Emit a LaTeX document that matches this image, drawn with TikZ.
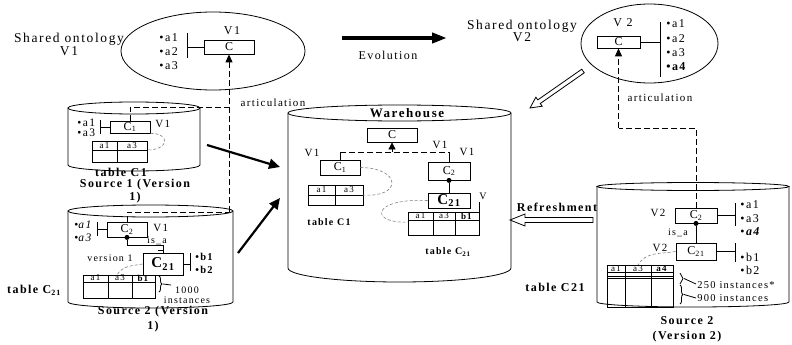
\documentclass[tikz,border=0pt]{standalone}
\usepackage{fontspec}
\setmainfont{Liberation Serif}[LetterSpace=12]
\usetikzlibrary{arrows.meta,calc,shapes.geometric,decorations.pathreplacing}

\tikzset{
  txt/.style={inner sep=0pt, font=\fontsize{12}{13}\selectfont},
  small/.style={inner sep=0pt, font=\fontsize{10}{11}\selectfont},
  attr/.style={inner sep=0pt, anchor=west, align=left, font=\fontsize{11}{14}\selectfont},
  ttl/.style={inner sep=0pt, align=center, font=\fontsize{12}{14}\selectfont\bfseries},
  hdr/.style={inner sep=0pt, font=\fontsize{9}{9}\selectfont},
  cls/.style={draw, inner sep=0pt, font=\fontsize{12}{13}\selectfont},
  dot/.style={circle, fill, inner sep=0pt, minimum size=5pt},
  artic/.style={line width=1pt, dash pattern=on 6pt off 3pt},
  link/.style={gray, densely dashed, line width=0.6pt},
  feed/.style={line width=2.2pt, -{Triangle[length=11pt,width=10pt]}},
  brc/.style={decorate, decoration={brace, amplitude=3pt}},
}

% hollow block arrow: from, to, shaft half width, head half width, head length
\newcommand{\blockarrow}[5]{%
  \coordinate (#1h) at ($(#2)!#5!(#1)$);
  \draw[fill=white] ($(#1)!#3!90:(#2)$) -- ($(#1h)!#3!90:(#2)$) -- ($(#1h)!#4!90:(#2)$)
    -- (#2) -- ($(#1h)!#4!-90:(#2)$) -- ($(#1h)!#3!-90:(#2)$) -- ($(#1)!#3!-90:(#2)$) -- cycle;}

\begin{document}
\begin{tikzpicture}[x=1pt, y=-1pt, line width=0.8pt]
    \useasboundingbox (0,0) rectangle (792,345);

    % shared ontology V1
    \node[draw, ellipse, minimum width=184pt, minimum height=78pt, inner sep=0pt] (ontoA) at (213,51) {};
    \node[txt, align=center, font=\fontsize{13.5}{13}\selectfont] (ontoAlbl) at (69,44) {Shared ontology\\V1};
    \node[attr, font=\fontsize{12}{14}\selectfont] (attA) at (159,52) {•a1\\•a2\\•a3};
    \node[cls, minimum width=50pt, minimum height=14pt] (cA) at (229,47) {C};
    \node[txt] (vA) at (232,31) {V1};
    \coordinate (barA1) at (187,33); \coordinate (barA2) at (187,58);
    \draw (barA1) -- (barA2);
    \draw (cA.west) -- (cA.west -| barA1);

    % source 1
    \draw (134,108) ellipse [x radius=66pt, y radius=6pt];
    \draw (68,108) -- (68,165) arc[start angle=180, end angle=360, x radius=66pt, y radius=6pt] -- (200,108);
    \node[attr, font=\fontsize{11.5}{10}\selectfont] (attS1) at (77,128) {•a1\\•a3};
    \coordinate (barS1a) at (100,120); \coordinate (barS1b) at (100,134);
    \draw (barS1a) -- (barS1b);
    \node[cls, minimum width=40pt, minimum height=12pt] (c1s) at (130,127) {C\textsubscript{1}};
    \draw (c1s.west) -- (c1s.west -| barS1a);
    \node[small, anchor=west, font=\fontsize{11}{11}\selectfont] (v1s) at (155,124) {V1};
    \draw (92,141) rectangle (147,162);
    \draw (92,150) -- (147,150) (117,141) -- (117,162);
    \coordinate (t1sE) at (147,150);
    \node[hdr] (h1sa) at (104.5,145.5) {a1};
    \node[hdr] (h1sb) at (132,145.5) {a3};
    \draw[link] (c1s.south east) .. controls (170,133) and (170,150) .. (t1sE);
    \node[ttl] (tbl1s) at (121,172) {table C1};
    \node[ttl, font=\fontsize{12}{13}\selectfont\bfseries] (src1) at (135,191.5) {Source 1 (Version\\1)};

    % source 2, version 1
    \draw (150.5,211) ellipse [x radius=82.5pt, y radius=6pt];
    \draw (68,211) -- (68,302) arc[start angle=180, end angle=360, x radius=82.5pt, y radius=6pt] -- (233,211);
    \node[attr, font=\fontsize{11.5}{13}\selectfont] (attS2) at (74,231.5) {•\textit{a1}\\•\textit{a3}};
    \coordinate (barS2a) at (97,222); \coordinate (barS2b) at (97,236);
    \draw (barS2a) -- (barS2b);
    \node[cls, minimum width=40pt, minimum height=15pt] (c2s) at (127,229.5) {C\textsubscript{2}};
    \draw (c2s.west) -- (c2s.west -| barS2a);
    \node[small, anchor=west, font=\fontsize{11}{11}\selectfont] (v2s) at (153,228) {V1};
    \node[dot] (d2s) at (c2s.south) {};
    \node[cls, minimum width=40pt, minimum height=22pt, font=\fontsize{15}{15}\selectfont\bfseries] (c21s) at (163,264) {C\textsubscript{21}};
    \coordinate (isaS) at (163,245);
    \draw (d2s) |- (isaS) -- (c21s.north);
    \draw (158,250) -- (163,250);
    \node[small] (isaSlbl) at (157,241) {is\_a};
    \coordinate (barS2c) at (190,253); \coordinate (barS2d) at (190,271);
    \draw (barS2c) -- (barS2d);
    \draw (c21s.east) -- (c21s.east -| barS2c);
    \node[attr, font=\fontsize{10.5}{13}\selectfont\bfseries] (attS2b) at (195,263.5) {•b1\\•b2};
    \node[small] (ver1) at (110,258) {version 1};
    \draw (83,275) rectangle (155,298);
    \draw (83,282) -- (155,282) (108,275) -- (108,298) (132,275) -- (132,298);
    \coordinate (t2sN) at (117,275);
    \node[hdr] (h2sa) at (95.5,278) {a1};
    \node[hdr] (h2sb) at (120,278) {a3};
    \node[hdr] (h2sc) at (143.5,278) {\textbf{b1}};
    \draw[link] (c21s.west) to[out=190, in=60] (t2sN);
    \draw[brc] (159,276) -- (159,292);
    \draw (163,284) -- (171,285);
    \node[small, align=center, font=\fontsize{10}{10}\selectfont] (inst1) at (187,295) {1000\\instances};
    \node[ttl] (tbl2s) at (34,290) {table C\textsubscript{21}};
    \node[ttl, font=\fontsize{12}{15}\selectfont\bfseries] (src2) at (153,319.5) {Source 2 (Version\\1)};

    % feeding the warehouse
    \coordinate (s1out) at (207,145); \coordinate (wIn1) at (280,167);
    \coordinate (s2out) at (238,253); \coordinate (wIn2) at (280,198);
    \draw[feed] (s1out) -- (wIn1);
    \draw[feed] (s2out) -- (wIn2);

    % articulation V1
    \coordinate (jA) at (229,107); \coordinate (jA2) at (229,212);
    \draw[artic] (c1s.north) |- (jA);
    \draw[artic] (c2s.north) |- (jA2);
    \draw[artic, -{Triangle[length=8pt,width=7pt]}] (jA2) -- (cA.south);
    \node[txt, font=\fontsize{11}{12}\selectfont] (artA) at (273,103) {articulation};

    % warehouse
    \draw (399.5,113) ellipse [x radius=111.5pt, y radius=8pt];
    \draw (288,113) -- (288,268) arc[start angle=180, end angle=360, x radius=111.5pt, y radius=14pt] -- (511,113);
    \node[ttl, font=\fontsize{13}{14}\selectfont\bfseries] (whLbl) at (407,113) {Warehouse};
    \node[cls, minimum width=50pt, minimum height=14pt] (cW) at (392,135) {C};
    \node[cls, minimum width=40pt, minimum height=15pt] (c1w) at (340,167.5) {C\textsubscript{1}};
    \node[cls, minimum width=42pt, minimum height=18pt] (c2w) at (449,171) {C\textsubscript{2}};
    \coordinate (jWl) at (340,152); \coordinate (jWr) at (449,152);
    \draw (c1w.north) -- (jWl);
    \draw (c2w.north) -- (jWr);
    \draw[artic] (jWl) -- (jWr);
    \draw[-{Triangle[length=7pt,width=7pt]}] (cW |- jWl) -- (cW.south);
    \node[small, font=\fontsize{11}{11}\selectfont] (v1wl) at (312,153) {V1};
    \node[small, font=\fontsize{11}{11}\selectfont] (v1wm) at (440,145) {V1};
    \node[small, font=\fontsize{11}{11}\selectfont] (v1wr) at (467,152) {V1};
    \node[dot] (d2w) at (c2w.south) {};
    \node[cls, minimum width=42pt, minimum height=15pt, font=\fontsize{15}{15}\selectfont\bfseries] (c21w) at (449,200.5) {C\textsubscript{21}};
    \draw (d2w) -- (c21w.north);
    \node[small] (vw21) at (483,196) {V};
    \coordinate (vw21a) at (479,202); \coordinate (vw21b) at (479,212);
    \draw (vw21a) -- (vw21b);
    \draw (308,185) rectangle (363,205);
    \draw (308,195) -- (363,195) (335,185) -- (335,205);
    \coordinate (t1wE) at (363,195);
    \node[hdr] (h1wa) at (321.5,190) {a1};
    \node[hdr] (h1wb) at (349,190) {a3};
    \draw[link] (c1w.east) .. controls (402,168) and (402,198) .. (t1wE);
    \node[ttl, font=\fontsize{10}{11}\selectfont\bfseries] (tbl1w) at (329,222) {table C1};
    \draw (408,212) rectangle (479,235);
    \draw (408,220) -- (479,220) (433,212) -- (433,235) (455,212) -- (455,235);
    \coordinate (t21wW) at (408,222);
    \node[hdr] (h2wa) at (420.5,216) {a1};
    \node[hdr] (h2wb) at (444,216) {a3};
    \node[hdr] (h2wc) at (467,216) {\textbf{b1}};
    \draw[link] (c21w.west) .. controls (370,198) and (370,224) .. (t21wW);
    \node[ttl, font=\fontsize{10}{11}\selectfont\bfseries] (tbl21w) at (448,252) {table C\textsubscript{21}};

    % evolution
    \coordinate (evoS) at (342,38); \coordinate (evoE) at (447,38);
    \draw[line width=4pt, -{Triangle[length=15pt,width=10pt]}] (evoS) -- (evoE);
    \node[txt] (evoLbl) at (388,55) {Evolution};
    \node[txt, align=center, font=\fontsize{13.5}{12}\selectfont] (ontoBlbl) at (522,31) {Shared ontology\\V2};
    \coordinate (hA) at (583,71); \coordinate (hB) at (530,108);
    \blockarrow{hA}{hB}{2.2pt}{5.5pt}{11pt}

    % shared ontology V2
    \node[draw, ellipse, minimum width=137pt, minimum height=79pt, inner sep=0pt] (ontoB) at (649.5,43.5) {};
    \node[txt] (vB) at (623,23) {V 2};
    \node[cls, minimum width=43pt, minimum height=12pt] (cB) at (618.5,42) {C};
    \coordinate (barB1) at (660,22); \coordinate (barB2) at (660,77);
    \draw (barB1) -- (barB2);
    \draw (cB.east) -- (cB.east -| barB1);
    \node[attr, font=\fontsize{12}{14.3}\selectfont] (attB) at (666,45.5) {•a1\\•a2\\•a3\\\textbf{•a4}};

    % source 2, version 2
    \draw (693,186.5) ellipse [x radius=96pt, y radius=4pt];
    \draw (597,186.5) -- (597,302) arc[start angle=180, end angle=360, x radius=96pt, y radius=5pt] -- (789,186.5);
    \node[cls, minimum width=42pt, minimum height=15pt] (c2r) at (696,215.5) {C\textsubscript{2}};
    \node[small, font=\fontsize{11}{11}\selectfont] (v2r) at (658,213) {V2};
    \coordinate (barR1) at (735,203); \coordinate (barR2) at (735,226);
    \draw (barR1) -- (barR2);
    \draw (c2r.east) -- (c2r.east -| barR1);
    \node[attr, font=\fontsize{12}{13.5}\selectfont] (attR) at (740,218.5) {•a1\\•a3\\•\textbf{\textit{a4}}};
    \node[dot] (d2r) at (c2r.south) {};
    \node[cls, minimum width=40pt, minimum height=17pt] (c21r) at (696,251.5) {C\textsubscript{21}};
    \draw (d2r) -- (c21r.north);
    \node[small] (isaR) at (678,233) {is\_a};
    \coordinate (barR3) at (735,243); \coordinate (barR4) at (735,262);
    \draw (barR3) -- (barR4);
    \draw (c21r.east) -- (c21r.east -| barR3);
    \node[attr, font=\fontsize{12}{13}\selectfont] (attR2) at (740,263.5) {•b1\\•b2};
    \node[small, font=\fontsize{11}{11}\selectfont] (v2r21) at (660,248) {V2};
    \draw (607,265) rectangle (673,307);
    \draw (607,272) -- (673,272) (607,276) -- (673,276) (607,278) -- (673,278);
    \draw (625,265) -- (625,307) (651,265) -- (651,307);
    \coordinate (t2rN) at (638,265);
    \node[hdr] (h2ra) at (616,268.5) {a1};
    \node[hdr] (h2rb) at (638,268.5) {a3};
    \node[hdr] (h2rc) at (662,268.5) {\textbf{a4}};
    \draw[link] (c21r.west) to[out=190, in=60] (t2rN);
    \draw[brc] (680,273) -- (680,284);
    \draw[brc] (680,285) -- (680,304);
    \draw (684,278.5) -- (696,284);
    \draw (684,294.5) -- (696,298);
    \node[txt, anchor=west, font=\fontsize{10.5}{12}\selectfont] (inst250) at (697,285) {250 instances*};
    \node[txt, anchor=west, font=\fontsize{10.5}{12}\selectfont] (inst900) at (697,298) {900 instances};
    \node[ttl] (tbl21r) at (555,287) {table C21};
    \node[ttl, font=\fontsize{12}{15}\selectfont\bfseries] (src2r) at (687,329.5) {Source 2\\(Version 2)};

    % articulation V2
    \coordinate (jB) at (618.5,128);
    \draw[artic] (c2r.north) |- (jB);
    \draw[artic, -{Triangle[length=8pt,width=7pt]}] (jB) -- (cB.south);
    \node[txt, font=\fontsize{11}{12}\selectfont] (artB) at (660,98) {articulation};

    % refreshment
    \coordinate (rfA) at (593,220); \coordinate (rfB) at (510,220);
    \blockarrow{rfA}{rfB}{2.5pt}{6pt}{15pt}
    \node[ttl] (rfLbl) at (557,207) {Refreshment};

\end{tikzpicture}
\end{document}
